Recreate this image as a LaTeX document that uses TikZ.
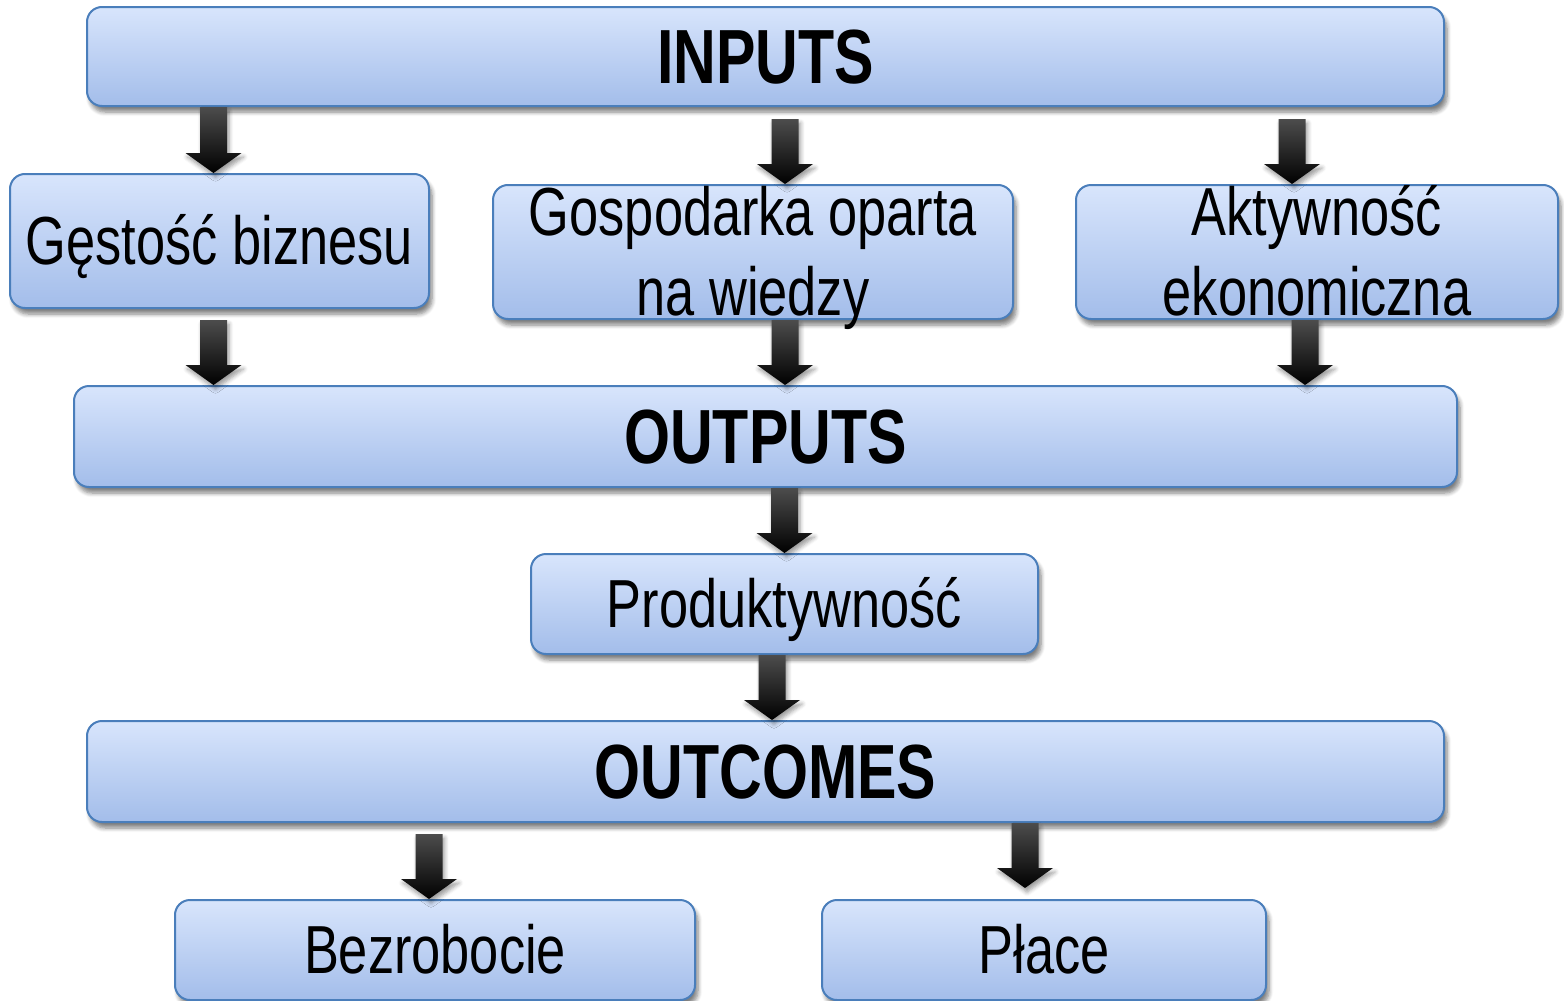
\documentclass[tikz,border=0pt]{standalone}
\usepackage{fontspec}
\setmainfont[FakeStretch=0.77]{Liberation Sans}
\usepackage{tikz}
\usetikzlibrary{positioning, calc, shadows, shadows.blur}

\definecolor{boxtop}{HTML}{D8E5FC}
\definecolor{boxbot}{HTML}{A3BDEA}
\definecolor{boxline}{HTML}{4A7EBB}

% linia tekstu o wysokosci jak w PowerPoint
\newcommand{\ppline}{\rule[-7.2pt]{0pt}{38pt}}

\tikzset{
  box/.style={rectangle, draw=boxline, line width=1pt, rounded corners=7.5pt,
    top color=boxtop, bottom color=boxbot, align=center, inner sep=0pt,
    blur shadow={shadow xshift=1.5pt, shadow yshift=-3pt, shadow blur steps=6, shadow opacity=50},
    text height=30.8pt, text depth=7.2pt,
    font=\fontsize{34}{40}\selectfont},
  twoline/.style={box, text height={}, text depth={}, inner ysep=-12pt},
  headbox/.style={box, text height=34.75pt, text depth=8.15pt,
    font=\fontsize{38.4}{44}\selectfont\bfseries},
  blockarrow/.style={top color=black!70, bottom color=black,
    blur shadow={shadow xshift=1pt, shadow yshift=-2pt, shadow blur steps=5},
    to path={let \p1=(\tikztostart), \p2=(\tikztotarget) in
      (\x1-6.75pt,\y1) -- (\x1+6.75pt,\y1) -- (\x1+6.75pt,\y2+10pt) -- (\x1+14pt,\y2+10pt)
      -- (\x1,\y2) -- (\x1-14pt,\y2+10pt) -- (\x1-6.75pt,\y2+10pt) -- cycle}}
}

\begin{document}
\begin{tikzpicture}[x=0.5pt, y=-0.5pt]
  \useasboundingbox (0,0) rectangle (1564,1001);

  % Blok INPUTS
  \node[headbox, minimum width=678.5pt, minimum height=49.5pt] (inputs) at (765.5,56.5) {INPUTS};
  \node[box, minimum width=209.5pt, minimum height=67pt] (gestosc) at (219.5,241) {Gęstość biznesu};
  \node[twoline, minimum width=260pt, minimum height=67pt] (gospodarka) at (753,252) {\ppline Gospodarka oparta\\\ppline na wiedzy};
  \node[twoline, minimum width=241pt, minimum height=67pt] (aktywnosc) at (1317,252) {\ppline Aktywność\\\ppline ekonomiczna};

  % Blok OUTPUTS
  \node[headbox, minimum width=691.5pt, minimum height=50.5pt] (outputs) at (765.5,436.5) {OUTPUTS};
  \node[box, minimum width=253.5pt, minimum height=50pt] (produkt) at (784.5,604) {Produktywność};

  % Blok OUTCOMES
  \node[headbox, minimum width=678.5pt, minimum height=50.5pt] (outcomes) at (765.5,771.5) {OUTCOMES};
  \node[box, minimum width=260pt, minimum height=50pt] (bezrob) at (435,950) {Bezrobocie};
  \node[box, minimum width=222pt, minimum height=50pt] (place) at (1044,950) {Płace};

  % Strzałki
  \path[blockarrow] ([xshift=-3pt]gestosc.north |- inputs.south) to (gestosc.north);
  \path[blockarrow] ([xshift=16pt,yshift=-6pt]gospodarka.north |- inputs.south) to (gospodarka.north);
  \path[blockarrow] ([xshift=-12.5pt,yshift=-6pt]aktywnosc.north |- inputs.south) to (aktywnosc.north);
  \path[blockarrow] ([xshift=-3pt,yshift=-5.5pt]gestosc.south) to (gestosc.south |- outputs.north);
  \path[blockarrow] ([xshift=16pt]gospodarka.south) to (gospodarka.south |- outputs.north);
  \path[blockarrow] ([xshift=-6pt]aktywnosc.south) to (aktywnosc.south |- outputs.north);
  \path[blockarrow] (produkt.north |- outputs.south) to (produkt.north);
  \path[blockarrow] ([xshift=-6.25pt]produkt.south) to (produkt.south |- outcomes.north);
  \path[blockarrow] ([xshift=-3pt,yshift=-5.5pt]bezrob.north |- outcomes.south) to (bezrob.north);
  \path[blockarrow] ([xshift=-9.5pt]place.north |- outcomes.south) to ([yshift=5.5pt]place.north);
\end{tikzpicture}
\end{document}
